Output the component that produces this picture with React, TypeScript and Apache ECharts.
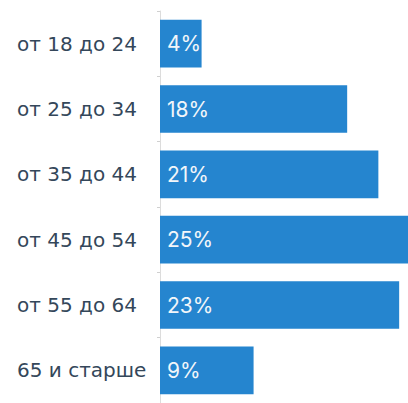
import React, { useEffect, useRef } from "react";
import * as echarts from "echarts";

const categories = ["от 18 до 24", "от 25 до 34", "от 35 до 44", "от 45 до 54", "от 55 до 64", "65 и старше"];
const values = [4, 18, 21, 25, 23, 9];

const FONT = "Inter, 'Liberation Sans', Arial, sans-serif";
const LABEL_FONT = "'DejaVu Sans', Inter, Arial, sans-serif";

export default function App() {
  const ref = useRef<HTMLDivElement>(null);
  useEffect(() => {
    if (!ref.current) return;
    const chart = echarts.init(ref.current, null, { renderer: "svg" });
    chart.setOption({
      animation: false,
      backgroundColor: "#ffffff",
      grid: { left: 160, top: 11, right: 0, height: 396, containLabel: false },
      xAxis: {
        type: "value",
        min: 0,
        max: 23.85,
        show: false,
      },
      yAxis: {
        type: "category",
        data: categories,
        inverse: true,
        offset: 2,
        axisLine: { show: true, lineStyle: { color: "#dcdcdc", width: 1 } },
        axisTick: { show: true, length: 3, lineStyle: { color: "#d0d0d0" } },
        axisLabel: {
          align: "left",
          margin: 141,
          color: "#34475a",
          fontSize: 20,
          fontFamily: LABEL_FONT,
        },
        splitLine: { show: false },
      },
      series: [
        {
          type: "bar",
          data: values,
          barCategoryGap: "27%",
          clip: true,
          itemStyle: { color: "#2585cf" },
          label: {
            show: true,
            position: "insideLeft",
            distance: 7,
            formatter: "{c}%",
            color: "#f2f6fa",
            fontSize: 21,
            fontFamily: FONT,
          },
        },
      ],
    });
    return () => chart.dispose();
  }, []);
  return <div ref={ref} style={{ position: "fixed", left: 0, top: 0, width: 408, height: 403 }} />;
}
